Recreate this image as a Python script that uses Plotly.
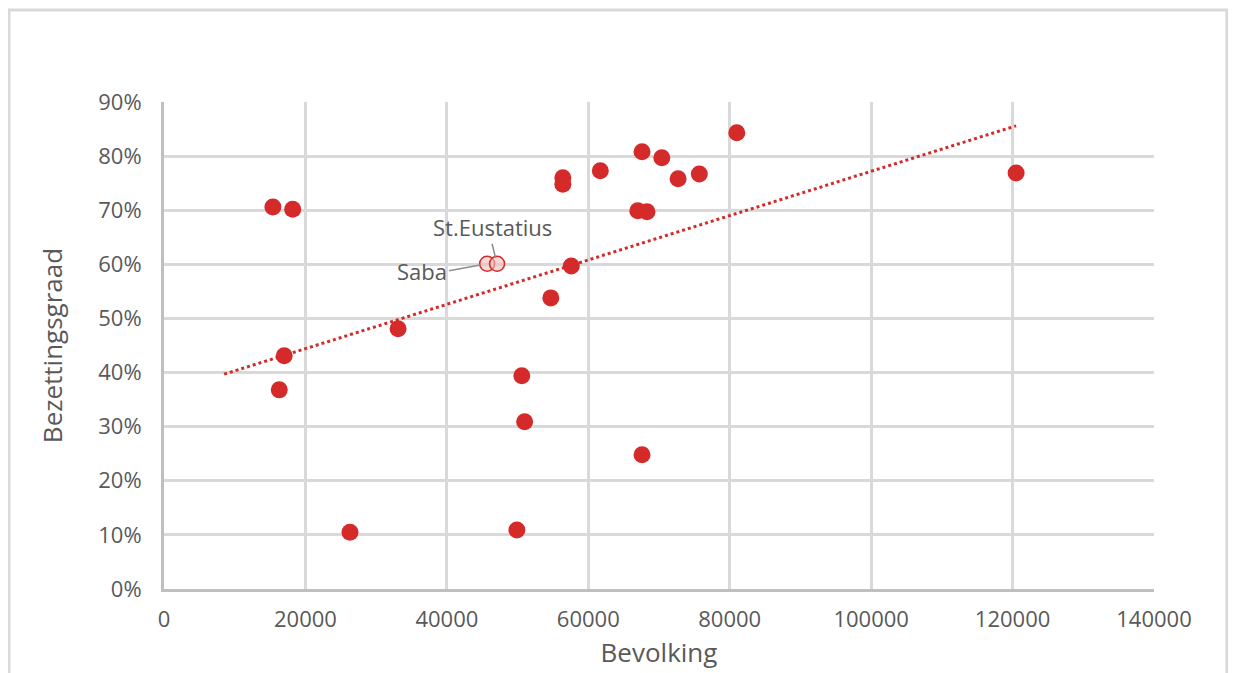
import plotly.graph_objects as go

# Data
bevolking = [15400, 18200, 17000, 16300, 26300, 33100, 49900, 50600, 51000, 54700,
             56400, 56400, 57600, 61700, 67600, 67000, 68300, 67600, 70400, 72700,
             75700, 81000, 120500]
bezetting = [0.706, 0.702, 0.431, 0.368, 0.105, 0.481, 0.109, 0.394, 0.309, 0.538,
             0.760, 0.748, 0.597, 0.773, 0.808, 0.699, 0.697, 0.248, 0.797, 0.758,
             0.767, 0.843, 0.769]

eilanden = ["Saba", "St.Eustatius"]
eilanden_bevolking = [45700, 47100]
eilanden_bezetting = [0.601, 0.601]

trend_x = [8500, 120500]
trend_y = [0.397, 0.856]

x_ticks = [0, 20000, 40000, 60000, 80000, 100000, 120000, 140000]
y_ticks = [0, 0.1, 0.2, 0.3, 0.4, 0.5, 0.6, 0.7, 0.8, 0.9]

RED = "#D42A2A"
FONT = "Open Sans"
TXT = "#595959"

fig = go.Figure()
fig.add_trace(go.Scatter(x=trend_x, y=trend_y, mode="lines",
                         line=dict(color=RED, width=3, dash="dot"),
                         hoverinfo="skip", showlegend=False))
fig.add_trace(go.Scatter(x=bevolking, y=bezetting, mode="markers",
                         marker=dict(color=RED, size=17, line=dict(width=0)),
                         showlegend=False))
fig.add_trace(go.Scatter(x=eilanden_bevolking, y=eilanden_bezetting, mode="markers",
                         marker=dict(color="rgba(240,190,190,0.6)", size=15,
                                     line=dict(color=RED, width=1.5)),
                         text=eilanden, showlegend=False))

# labels with leader lines
fig.add_annotation(x=eilanden_bevolking[1], y=eilanden_bezetting[1], text=eilanden[1],
                   showarrow=True, arrowhead=0, arrowcolor="#8c8c8c", arrowwidth=1.5,
                   ax=-5, ay=-20, yanchor="bottom", standoff=6,
                   font=dict(family=FONT, size=22, color=TXT))
fig.add_annotation(x=eilanden_bevolking[0], y=eilanden_bezetting[0], text=eilanden[0],
                   showarrow=True, arrowhead=0, arrowcolor="#8c8c8c", arrowwidth=1.5,
                   ax=-38, ay=7, xanchor="right", standoff=7,
                   font=dict(family=FONT, size=22, color=TXT))

# outer chart frame
fig.add_shape(type="rect", xref="paper", yref="paper",
              x0=-0.1566, x1=1.0737, y0=-0.25, y1=1.189,
              line=dict(color="#d9d9d9", width=3), layer="below")

fig.update_layout(
    width=1236, height=673,
    margin=dict(l=156, r=90, t=94, b=92),
    paper_bgcolor="white", plot_bgcolor="white",
    font=dict(family=FONT, size=22, color=TXT),
    xaxis=dict(range=[0, 140000], tickvals=x_ticks, ticktext=[str(v) for v in x_ticks],
               showgrid=True, gridcolor="#d9d9d9", gridwidth=3,
               showline=True, linecolor="#bfbfbf", linewidth=3,
               zeroline=False, ticks="", ticklabelstandoff=9,
               title=dict(text="Bevolking", font=dict(size=26, color=TXT), standoff=12)),
    yaxis=dict(range=[0, 0.9], tickvals=y_ticks, tickformat=".0%",
               showgrid=True, gridcolor="#d9d9d9", gridwidth=3,
               showline=True, linecolor="#bfbfbf", linewidth=3,
               zeroline=False, ticks="", ticklabelstandoff=15,
               title=dict(text="Bezettingsgraad", font=dict(size=26, color=TXT), standoff=29)),
)

fig.write_html("out.html")
